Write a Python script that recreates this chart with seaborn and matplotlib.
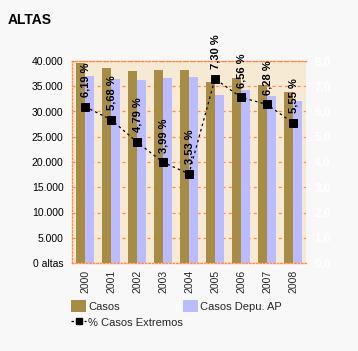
import matplotlib
matplotlib.use("Agg")
import matplotlib.pyplot as plt
import seaborn as sns
import pandas as pd
from matplotlib.patches import Patch
from matplotlib.lines import Line2D
from matplotlib.ticker import FuncFormatter

years = ["2000", "2001", "2002", "2003", "2004", "2005", "2006", "2007", "2008"]
casos = [39600, 38600, 38000, 38200, 38200, 35800, 36600, 35200, 33900]
casos_depu = [37100, 36400, 36200, 36700, 36900, 33300, 34200, 33000, 32100]
pct_extremos = [6.19, 5.68, 4.79, 3.99, 3.53, 7.30, 6.56, 6.28, 5.55]
series_names = ["Casos", "Casos Depu. AP", "% Casos Extremos"]
left_ticks = [0, 5000, 10000, 15000, 20000, 25000, 30000, 35000, 40000]
right_ticks = [0, 1, 2, 3, 4, 5, 6, 7, 8]

OLIVE = "#A68C44"
LAVENDER = "#BBBBFF"
BEIGE = "#F6EAD4"
ORANGE = "#FF8C4A"
BG = "#F8F8F8"

sns.set_style("white")
plt.rcParams["font.family"] = ["Liberation Sans", "DejaVu Sans"]

df = pd.DataFrame({
    "year": years * 2,
    "value": casos + casos_depu,
    "serie": [series_names[0]] * len(years) + [series_names[1]] * len(years),
})

fig = plt.figure(figsize=(3.58, 3.51), dpi=100, facecolor=BG)
ax = fig.add_axes([72 / 358, 1 - 263 / 351, 234 / 358, 202 / 351])
ax.set_facecolor(BEIGE)

sns.barplot(data=df, x="year", y="value", hue="serie", order=years,
            palette=[OLIVE, LAVENDER], width=0.68, saturation=1,
            ax=ax, legend=False, edgecolor="none", linewidth=0)

ax.set_ylim(0, 40000)
ax.set_xlim(-0.5, len(years) - 0.5)
ax.set_yticks(left_ticks)
ax.yaxis.set_major_formatter(FuncFormatter(
    lambda v, p: "0 altas" if v == 0 else f"{int(v):,}".replace(",", ".")))
ax.set_xlabel("")
ax.set_ylabel("")
ax.set_axisbelow(True)
ax.grid(axis="y", color=ORANGE, linestyle=(0, (2.5, 2.5)), linewidth=0.9)
ax.grid(axis="x", visible=False)
ax.tick_params(axis="y", length=0, pad=6, labelsize=7.5, colors="#000000")
ax.tick_params(axis="x", length=0, pad=5, labelsize=7.5, rotation=90)
for side in ["left", "top", "bottom"]:
    ax.spines[side].set_visible(True)
    ax.spines[side].set_color(ORANGE)
    ax.spines[side].set_linestyle((0, (1, 1.5)))
    ax.spines[side].set_linewidth(1)
ax.spines["right"].set_visible(False)

ax2 = ax.twinx()
sns.pointplot(x=years, y=pct_extremos, ax=ax2, color="black", markers="s",
              linestyles=(0, (2, 2.5)), markersize=5.5, linewidth=0.9)
ax2.set_ylim(0, 8)
ax2.set_xlim(-0.5, len(years) - 0.5)
ax2.set_yticks(right_ticks)
ax2.yaxis.set_major_formatter(FuncFormatter(lambda v, p: f"{v:.1f}".replace(".", ",")))
ax2.tick_params(axis="y", length=0, pad=6, labelsize=8.5, colors="#FFFFFF")
for lab in ax2.get_yticklabels():
    lab.set_fontweight("bold")
ax2.set_ylabel("")
ax2.set_xlabel("")
for s in ax2.spines.values():
    s.set_visible(False)
ax2.grid(False)

for i, v in enumerate(pct_extremos):
    ax2.annotate(f"{v:.2f}".replace(".", ",") + " %", xy=(i, v),
                 xytext=(0, 7), textcoords="offset points",
                 rotation=90, ha="center", va="bottom",
                 fontsize=8, fontweight="bold", color="black")

fig.text(8 / 358, 1 - 24 / 351, "ALTAS", fontsize=10, fontweight="bold",
         ha="left", va="baseline", color="black")

handles = [
    Patch(facecolor=OLIVE, edgecolor="none", label=series_names[0]),
    Line2D([0], [0], color="black", marker="s", markersize=5,
           linestyle=(0, (2, 1.5)), linewidth=0.9, label=series_names[2]),
    Patch(facecolor=LAVENDER, edgecolor="none", label=series_names[1]),
]
fig.legend(handles=handles, ncol=2, loc="upper left",
           bbox_to_anchor=(71 / 358, 1 - 300 / 351), frameon=False,
           fontsize=8, handlelength=1.35, handleheight=1.25,
           handletextpad=0.2, columnspacing=0.0, borderpad=0,
           labelspacing=0.4, borderaxespad=0)

fig.savefig("out.png", dpi=100, facecolor=BG)
